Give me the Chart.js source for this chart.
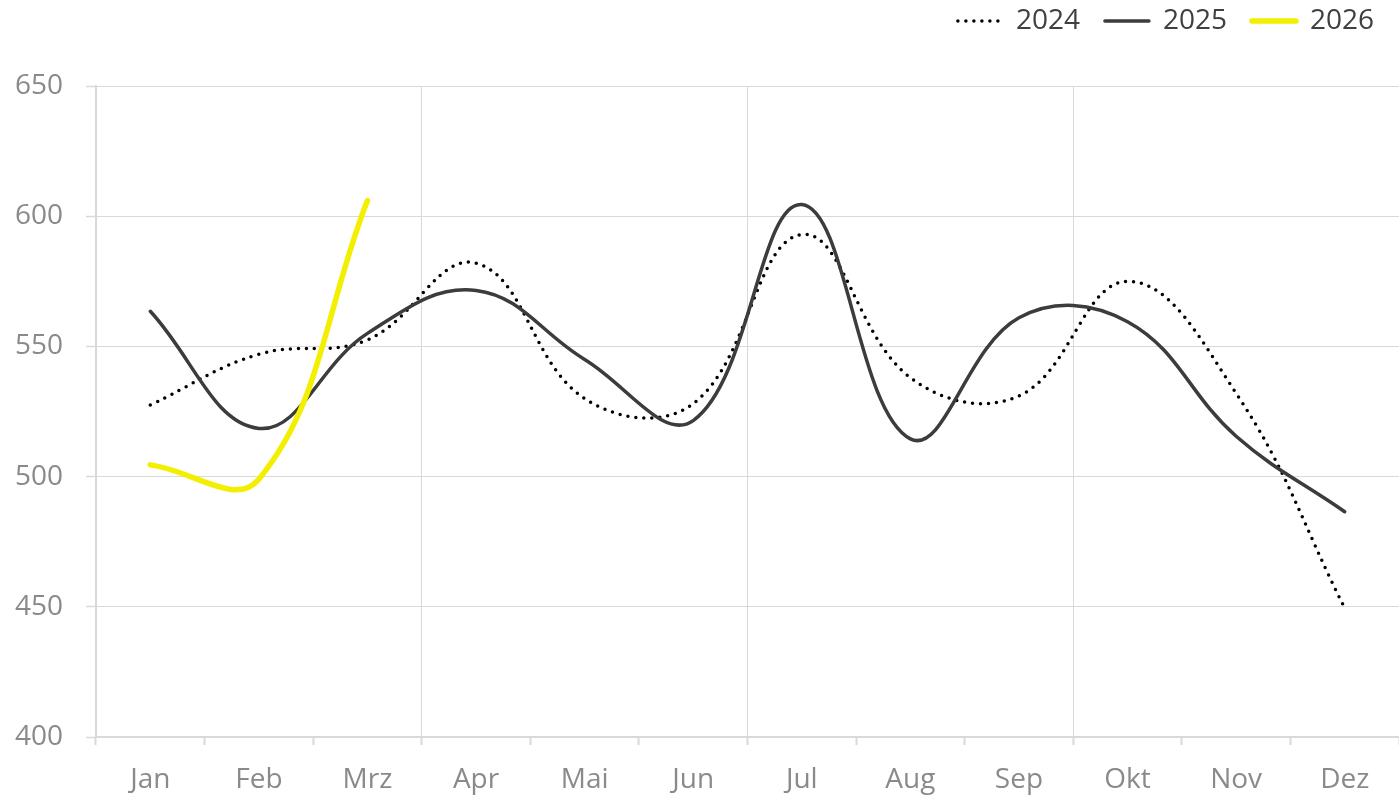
<!DOCTYPE html>
<html>
<head>
<meta charset="utf-8">
<script src="https://cdn.jsdelivr.net/npm/chart.js@4/dist/chart.umd.min.js"></script>
<style>
  html, body { margin: 0; padding: 0; background: #ffffff; }
  canvas { display: block; }
</style>
</head>
<body>
<canvas id="myChart" width="1399" height="797"></canvas>
<script>
// data
const months = ['Jan', 'Feb', 'Mrz', 'Apr', 'Mai', 'Jun', 'Jul', 'Aug', 'Sep', 'Okt', 'Nov', 'Dez'];
const values2024 = [527.5, 547, 552.5, 582, 530, 528, 593, 538, 531, 575, 532, 449.5];
const values2025 = [563.5, 518.5, 555, 571.5, 545, 521.5, 604.5, 514.5, 561, 559.5, 515.5, 486.5];
const values2026 = [504.5, 499, 606];
const yTicks = [400, 450, 500, 550, 600, 650];

Chart.defaults.font.family = "'Open Sans', 'Liberation Sans', sans-serif";
Chart.defaults.font.size = 28;

const gridGrey = '#d9d9d9';
const labelGrey = '#8a8a8a';

// push the plot area down below the legend
const legendSpace = {
  id: 'legendSpace',
  beforeInit(chart) {
    const fit = chart.legend.fit;
    chart.legend.fit = function() {
      fit.bind(chart.legend)();
      this.height += 41;
    };
  }
};

let ctx = document.getElementById('myChart');
let myChart = new Chart(ctx, {
  type: 'line',
  data: {
    labels: months,
    datasets: [{
      label: '2024',
      data: values2024,
      borderColor: '#000000',
      backgroundColor: '#000000',
      borderWidth: 3.5,
      borderDash: [0, 8],
      borderCapStyle: 'round',
      pointRadius: 0,
      tension: 0.4,
      order: 2
    }, {
      label: '2025',
      data: values2025,
      borderColor: '#3c3c3c',
      backgroundColor: '#3c3c3c',
      borderWidth: 3.5,
      borderCapStyle: 'round',
      pointRadius: 0,
      tension: 0.4,
      order: 1
    }, {
      label: '2026',
      data: values2026,
      borderColor: '#f2f000',
      backgroundColor: '#f2f000',
      borderWidth: 5.5,
      borderCapStyle: 'round',
      pointRadius: 0,
      tension: 0.4,
      order: 0
    }]
  },
  options: {
    responsive: false,
    animation: false,
    layout: { padding: { left: 0, right: 0, top: -18, bottom: 0 } },
    plugins: {
      tooltip: { enabled: false },
      legend: {
        position: 'top',
        align: 'end',
        labels: {
          color: '#404040',
          usePointStyle: true,
          pointStyleWidth: 44,
          boxWidth: 44,
          padding: 25,
          font: { size: 28 },
          // legend samples drawn with the line styles, in dataset order
          generateLabels: chart => chart.data.datasets.map((ds, i) => ({
            text: ds.label,
            datasetIndex: i,
            hidden: false,
            fontColor: '#404040',
            fillStyle: ds.borderColor,
            strokeStyle: ds.borderColor,
            lineWidth: ds.borderWidth,
            lineDash: ds.borderDash || [],
            lineCap: ds.borderCapStyle,
            pointStyle: 'line'
          }))
        }
      }
    },
    scales: {
      x: {
        offset: true,
        grid: {
          offset: true,
          lineWidth: 1,
          color: c => (c.index === 3 || c.index === 6 || c.index === 9) ? gridGrey : 'rgba(0,0,0,0)',
          tickColor: gridGrey,
          tickWidth: 2,
          tickLength: 8
        },
        border: { color: gridGrey, width: 2 },
        ticks: { color: labelGrey, padding: 18, maxRotation: 0, autoSkip: false },
        afterFit: s => { s.height = 60; }
      },
      y: {
        min: yTicks[0],
        max: yTicks[yTicks.length - 1],
        afterBuildTicks: s => { s.ticks = yTicks.map(v => ({ value: v })); },
        grid: {
          color: gridGrey,
          lineWidth: 1,
          tickColor: gridGrey,
          tickWidth: 1.5,
          tickLength: 10
        },
        border: { color: gridGrey, width: 2 },
        ticks: { color: labelGrey, padding: 23 },
        afterFit: s => { s.width = 96; }
      }
    }
  },
  plugins: [legendSpace]
});
</script>
</body>
</html>
